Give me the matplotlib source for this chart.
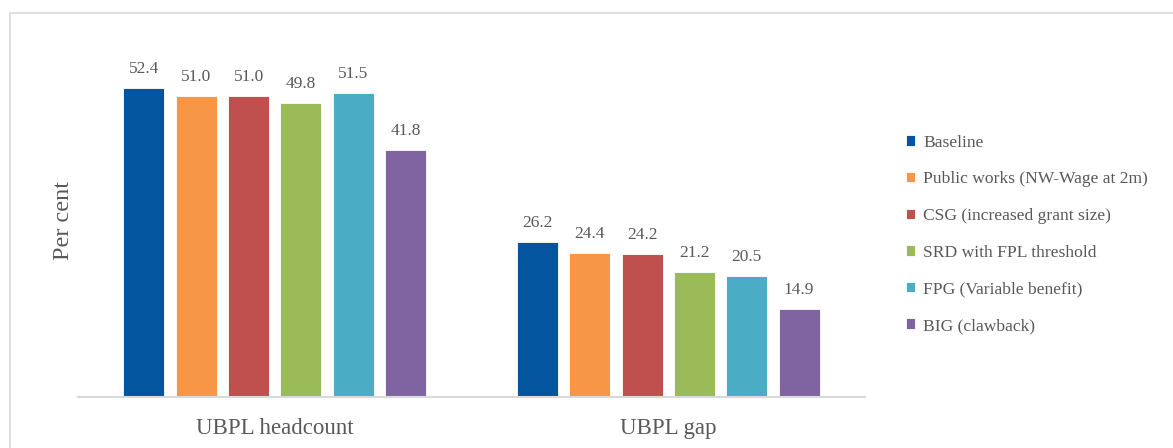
import matplotlib
matplotlib.use("Agg")
import matplotlib.pyplot as plt
import numpy as np
from matplotlib.patches import Rectangle

plt.rcParams["font.family"] = ["Liberation Serif", "DejaVu Serif"]

categories = ["UBPL headcount", "UBPL gap"]
series = [
    "Baseline",
    "Public works (NW-Wage at 2m)",
    "CSG (increased grant size)",
    "SRD with FPL threshold",
    "FPG (Variable benefit)",
    "BIG (clawback)",
]
baseline = [52.4, 26.2]
public_works = [51.0, 24.4]
csg = [51.0, 24.2]
srd = [49.8, 21.2]
fpg = [51.5, 20.5]
big = [41.8, 14.9]
values = [baseline, public_works, csg, srd, fpg, big]
colors = ["#02559E", "#F79646", "#C0504D", "#9BBB59", "#4BACC6", "#8064A2"]

text_gray = "#595959"

fig = plt.figure(figsize=(11.73, 4.48), dpi=100)
ax = fig.add_axes([0.0665, 0.1138, 0.6709, 0.790])

x = np.arange(len(categories))
pitch = 0.133
width = 0.104
handles = []
for i, (name, vals, c) in enumerate(zip(series, values, colors)):
    pos = x + (i - 2.5) * pitch
    bars = ax.bar(pos, vals, width, color=c, edgecolor="white", linewidth=0.6, label=name)
    handles.append(bars)
    for xp, v in zip(pos, vals):
        ax.annotate(f"{v:.1f}", (xp, v), xytext=(0, 8), textcoords="offset points",
                    ha="center", va="bottom", fontsize=12.5, color=text_gray)

ax.set_xlim(-0.5, 1.5)
ax.set_ylim(0, 60)
ax.set_xticks(x)
ax.set_xticklabels(categories, fontsize=16.5, color=text_gray)
ax.tick_params(axis="x", length=0, pad=15)
ax.set_yticks([])
for s in ["top", "right", "left"]:
    ax.spines[s].set_visible(False)
ax.spines["bottom"].set_color("#D9D9D9")
ax.spines["bottom"].set_linewidth(1.5)
ax.set_ylabel("Per cent", fontsize=17.5, color=text_gray, labelpad=3)

fig.legend(handles=handles, labels=series, loc="center left",
           bbox_to_anchor=(0.7645, 0.477), frameon=False, fontsize=12.6,
           handlelength=0.55, handleheight=0.55, handletextpad=0.45,
           labelspacing=1.18, borderpad=0, labelcolor=text_gray)

# light frame around the chart area
fig.patches.append(Rectangle((10 / 1173, -0.1), 1.2, 1 - 13 / 448 + 0.1,
                             transform=fig.transFigure, fill=False,
                             edgecolor="#D9D9D9", linewidth=1.2))

fig.savefig("out.png", dpi=100)
